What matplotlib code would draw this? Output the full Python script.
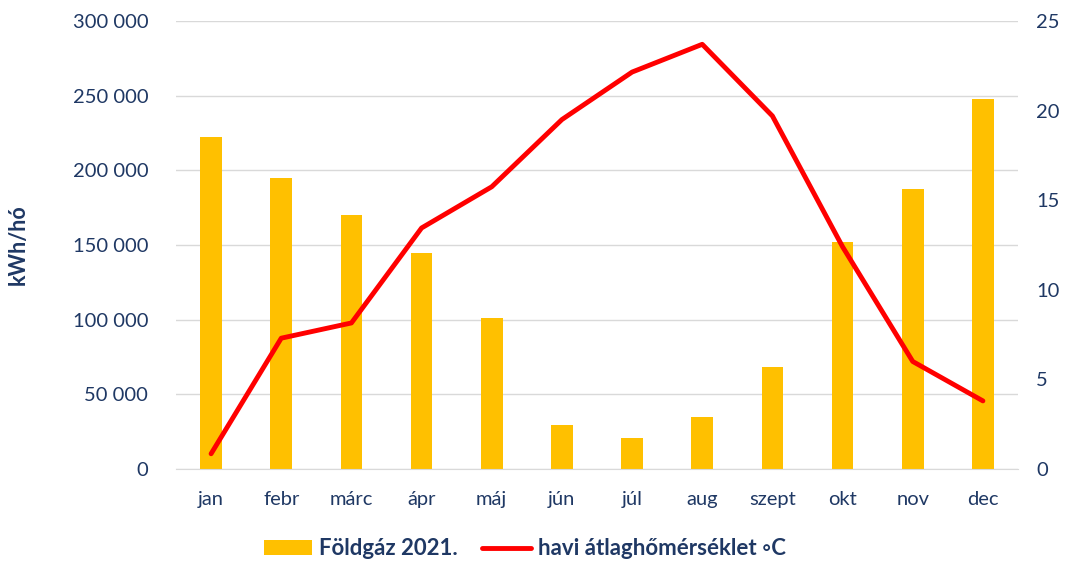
import matplotlib
matplotlib.use("Agg")
import matplotlib.pyplot as plt
import numpy as np

months = ["jan", "febr", "márc", "ápr", "máj", "jún", "júl", "aug", "szept", "okt", "nov", "dec"]
gas_2021 = [222000, 195000, 170000, 144500, 101000, 29500, 20500, 35000, 68000, 152000, 187500, 247500]
temp_avg = [0.85, 7.3, 8.15, 13.45, 15.75, 19.5, 22.15, 23.7, 19.7, 12.4, 6.0, 3.8]
left_ticks = [0, 50000, 100000, 150000, 200000, 250000, 300000]
right_ticks = [0, 5, 10, 15, 20, 25]

navy = "#1F3864"
plt.rcParams['font.family'] = ['Lato', 'DejaVu Sans']

fig = plt.figure(figsize=(10.73, 5.67), dpi=100)
ax = fig.add_axes([176/1073, 1 - 469/567, (1018-176)/1073, (469-21)/567])
x = np.arange(len(months))
bars = ax.bar(x, gas_2021, width=0.31, color="#FFC000", label="Földgáz 2021.", zorder=2)
ax.set_xlim(-0.5, len(months) - 0.5)
ax.set_ylim(0, 300000)
ax.set_yticks(left_ticks)
ax.set_yticklabels([f"{v:,}".replace(",", " ") for v in left_ticks])
ax.set_xticks(x)
ax.set_xticklabels(months)
ax.grid(axis="y", color="#D9D9D9", linewidth=1, zorder=0)
for s in ["top", "right", "left"]:
    ax.spines[s].set_visible(False)
ax.spines["bottom"].set_color("#D9D9D9")
ax.tick_params(axis="both", length=0, colors=navy, labelsize=14.5)
ax.tick_params(axis="x", pad=16)
ax.tick_params(axis="y", pad=20)
ax.set_ylabel("kWh/hó", color=navy, fontsize=15.5, fontweight="bold")
ax.yaxis.set_label_coords(-0.175, 0.5)

ax2 = ax.twinx()
line, = ax2.plot(x, temp_avg, color="#FF0000", linewidth=3.5, solid_capstyle="round",
                 label="havi átlaghőmérséklet ◦C", zorder=3)
ax2.set_ylim(0, 25)
ax2.set_yticks(right_ticks)
for s in ["top", "right", "left", "bottom"]:
    ax2.spines[s].set_visible(False)
ax2.tick_params(axis="y", length=0, colors=navy, labelsize=14.5, pad=13)

leg = fig.legend(handles=[bars, line], loc="lower center", bbox_to_anchor=(0.489, -0.022),
                 ncol=2, frameon=False, prop={"weight": "bold", "size": 16},
                 handlelength=2.2, columnspacing=1.1, handletextpad=0.3)
for t in leg.get_texts():
    t.set_color(navy)

fig.savefig("out.png", dpi=100)
